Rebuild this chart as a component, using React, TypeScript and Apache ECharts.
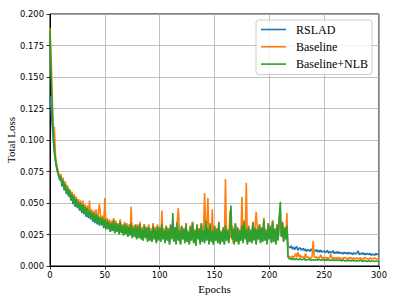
import React, { useEffect, useRef } from "react";
import * as echarts from "echarts";

const seriesNames = ["RSLAD", "Baseline", "Baseline+NLB"];
const seriesColors = ["#1f77b4", "#ff7f0e", "#2ca02c"];
const xTicks = [0, 50, 100, 150, 200, 250, 300];

// Total loss per epoch (epoch 0..300), in units of 0.001
const lossRSLAD = [
  135, 125, 112, 100, 90, 83, 78, 74, 71, 68,
  70, 63, 67, 60, 64, 57, 61, 55, 59, 52,
  56, 49, 54, 47, 52, 46, 50, 44, 49, 42,
  48, 41, 46, 39, 45, 38, 43, 37, 42, 35,
  41, 34, 40, 33, 39, 32, 38, 33, 39, 30,
  36, 29, 35, 30, 36, 27, 33, 28, 37, 26,
  35, 28, 33, 26, 36, 27, 31, 25, 34, 26,
  33, 24, 31, 25, 35, 23, 31, 24, 33, 22,
  32, 23, 34, 22, 30, 21, 33, 23, 31, 20,
  32, 21, 29, 20, 33, 22, 30, 19, 32, 21,
  31, 20, 34, 22, 29, 19, 32, 21, 30, 18,
  33, 22, 31, 20, 31, 18, 35, 21, 29, 18,
  32, 22, 30, 19, 34, 20, 28, 18, 32, 21,
  35, 19, 29, 17, 33, 22, 30, 18, 34, 20,
  29, 19, 36, 21, 31, 18, 34, 20, 29, 18,
  32, 21, 30, 19, 35, 18, 28, 20, 31, 18,
  33, 21, 29, 19, 32, 23, 27, 30, 18, 34,
  20, 31, 18, 29, 21, 33, 19, 36, 22, 30,
  18, 32, 20, 29, 19, 35, 21, 31, 18, 30,
  22, 33, 19, 31, 20, 36, 21, 29, 18, 34,
  22, 32, 19, 36, 20, 30, 18, 33, 21, 34,
  36, 24, 35, 20, 31, 22, 33, 16, 15, 14.5,
  16, 13.5, 15, 13, 14.5, 15.5, 12.5, 14, 14.5, 12.5,
  13.5, 14, 12, 13.5, 11.5, 13, 12.5, 11.5, 13.5, 12,
  12.5, 11.5, 12, 13, 11, 12.5, 11, 12.5, 11, 11.5,
  12, 10.5, 11.5, 12.5, 10, 11.5, 10.5, 11, 12, 10,
  11, 10, 11.5, 10, 11, 10, 10.5, 9.5, 11, 10,
  10.5, 9.5, 11, 9.5, 10.5, 10, 9, 10.5, 10, 9.5,
  10.5, 12, 9, 10, 9.5, 10.5, 9, 10, 9, 10,
  9.5, 9, 10, 8.5, 9.5, 9, 8.5, 10, 9, 9.5,
  9,
];

const lossBaseline = [
  189, 165, 135, 110, 110, 88, 81, 77, 73, 70,
  73, 66, 70, 62, 67, 59, 64, 57, 61, 54,
  59, 52, 57, 49, 55, 48, 53, 46, 52, 44,
  52, 43, 49, 41, 48, 40, 52, 39, 45, 37,
  44, 36, 45, 35, 42, 49, 41, 33, 40, 32,
  54, 31, 38, 30, 37, 28, 36, 29, 38, 27,
  36, 28, 34, 26, 37, 27, 33, 25, 35, 26,
  34, 24, 33, 25, 47, 23, 32, 24, 33, 22,
  33, 23, 35, 22, 31, 21, 33, 23, 31, 20,
  33, 21, 30, 20, 34, 22, 31, 19, 33, 21,
  31, 20, 44, 22, 30, 19, 32, 21, 30, 18,
  33, 22, 31, 20, 29, 18, 35, 46, 29, 18,
  32, 22, 30, 19, 34, 20, 28, 18, 32, 21,
  35, 19, 29, 17, 33, 22, 30, 18, 34, 20,
  29, 58, 27, 31, 54, 18, 34, 20, 45, 18,
  32, 21, 30, 19, 35, 18, 28, 20, 31, 18,
  69, 21, 29, 19, 44, 22, 32, 18, 30, 34,
  20, 31, 18, 29, 21, 55, 19, 36, 22, 66,
  18, 32, 20, 29, 19, 35, 21, 31, 43, 30,
  22, 33, 19, 31, 20, 38, 21, 29, 18, 34,
  22, 32, 19, 36, 20, 30, 18, 33, 21, 40,
  32, 24, 35, 20, 31, 22, 42, 8, 7.5, 7,
  7, 8, 6.5, 7.5, 10, 7, 11, 7, 9, 6.5,
  7.5, 7, 6.5, 10, 6.5, 7.5, 6, 7, 6, 7.5,
  20, 7, 6.5, 7.5, 6, 7, 6.5, 9, 6, 7,
  6, 7, 6, 6.5, 6, 7, 9.5, 6, 6.5, 6,
  6.5, 6, 7, 5.5, 7, 6, 5.5, 6.5, 6, 7,
  6, 5.5, 6.5, 6, 7, 5.5, 6, 6.5, 5.5, 6,
  6.5, 5.5, 6, 6.5, 5.5, 6, 5.5, 7, 6, 5.5,
  6, 5.5, 6.5, 5.5, 6, 5.5, 6.5, 6, 5.5, 6,
  5.5,
];

const lossBaselineNLB = [
  187, 155, 125, 104, 92, 84, 79, 75, 72, 69,
  71, 64, 68, 61, 65, 58, 62, 56, 60, 53,
  57, 50, 55, 48, 53, 47, 51, 45, 50, 43,
  49, 42, 47, 40, 46, 39, 44, 38, 43, 36,
  42, 35, 41, 34, 40, 33, 39, 32, 38, 31,
  37, 30, 36, 29, 35, 27, 34, 28, 36, 26,
  34, 27, 33, 25, 35, 26, 32, 24, 33, 25,
  32, 23, 31, 24, 34, 22, 30, 23, 32, 21,
  31, 22, 33, 21, 29, 20, 32, 22, 30, 19,
  31, 20, 28, 19, 32, 21, 29, 18, 31, 20,
  30, 19, 33, 21, 28, 18, 31, 20, 29, 17,
  32, 21, 42, 19, 30, 17, 34, 20, 28, 17,
  31, 21, 29, 18, 33, 19, 27, 17, 31, 20,
  34, 18, 28, 16, 32, 21, 29, 17, 33, 19,
  28, 18, 36, 20, 30, 17, 33, 19, 28, 17,
  31, 20, 29, 18, 34, 17, 27, 19, 30, 17,
  32, 20, 28, 18, 31, 48, 21, 29, 17, 33,
  19, 30, 17, 28, 20, 32, 18, 35, 21, 29,
  17, 31, 19, 28, 18, 34, 20, 30, 17, 29,
  21, 32, 18, 30, 19, 37, 20, 28, 17, 33,
  21, 31, 18, 35, 19, 29, 17, 32, 20, 38,
  51, 23, 34, 19, 30, 21, 32, 7, 6, 5.5,
  6, 5, 6, 5, 5.5, 6, 5, 5, 6, 5,
  5, 5.5, 6, 4.5, 5, 5, 5.5, 5, 4.5, 5,
  5, 4.5, 5, 5, 4.5, 5.5, 5, 4.5, 5, 5,
  4.5, 5, 4.5, 5, 4.5, 5, 4.5, 4.5, 5, 4.5,
  4.5, 5, 4.5, 4.5, 5, 4.5, 4, 5, 4.5, 4,
  4.5, 4, 5, 4, 4.5, 4, 5, 4, 4.5, 4,
  4.5, 4, 4, 5, 4, 3.5, 4.5, 4, 4, 3.5,
  4, 4.5, 3.5, 4, 4, 4, 3.5, 4, 4, 3.5,
  4,
];

const seriesValues = [lossRSLAD, lossBaseline, lossBaselineNLB];

export default function App() {
  const ref = useRef<HTMLDivElement>(null);
  useEffect(() => {
    if (!ref.current) return;
    const chart = echarts.init(ref.current, undefined, { renderer: "svg" });
    const tickFont = { fontFamily: "DejaVu Sans", fontSize: 8.4, color: "#000" };
    chart.setOption({
      animation: false,
      backgroundColor: "#ffffff",
      grid: {
        left: 50,
        right: 20,
        top: 14,
        bottom: 33,
        show: true,
        borderColor: "#000",
        borderWidth: 1,
        outerBoundsMode: "none",
      },
      legend: {
        orient: "vertical",
        left: 256,
        top: 20,
        data: seriesNames,
        icon: "rect",
        itemWidth: 25,
        itemHeight: 1.6,
        itemGap: 0.3,
        padding: [1, 4, 2, 5],
        backgroundColor: "rgba(255,255,255,0.8)",
        borderColor: "#cccccc",
        borderWidth: 1,
        borderRadius: 3,
        textStyle: {
          fontFamily: "Liberation Serif",
          fontSize: 12,
          color: "#000",
          lineHeight: 17,
          padding: [0, 0, 0, 5],
        },
      },
      xAxis: {
        type: "value",
        min: xTicks[0],
        max: xTicks[xTicks.length - 1],
        interval: 50,
        name: "Epochs",
        nameLocation: "middle",
        nameGap: 17,
        nameMoveOverlap: false,
        nameTextStyle: { fontFamily: "Liberation Serif", fontSize: 11, color: "#000" },
        axisLine: { show: true, onZero: false, lineStyle: { color: "#000", width: 1 } },
        axisTick: { show: true, length: 3.5, lineStyle: { color: "#000", width: 0.8 } },
        axisLabel: { ...tickFont, margin: 5 },
        splitLine: { show: true, lineStyle: { color: "#b0b0b0", width: 0.8 } },
      },
      yAxis: {
        type: "value",
        min: 0,
        max: 0.2,
        interval: 0.025,
        name: "Total Loss",
        nameLocation: "middle",
        nameGap: 34,
        nameMoveOverlap: false,
        nameTextStyle: { fontFamily: "Liberation Serif", fontSize: 11, color: "#000" },
        axisLine: { show: true, lineStyle: { color: "#000", width: 1 } },
        axisTick: { show: true, length: 3.5, lineStyle: { color: "#000", width: 0.8 } },
        axisLabel: { ...tickFont, margin: 6, formatter: (v: number) => v.toFixed(3) },
        splitLine: { show: true, lineStyle: { color: "#b0b0b0", width: 0.8 } },
      },
      series: seriesNames.map((name, k) => ({
        name,
        type: "line",
        showSymbol: false,
        symbol: "none",
        color: seriesColors[k],
        lineStyle: { width: 1.6, color: seriesColors[k] },
        data: seriesValues[k].map((v, i) => [i, v / 1000]),
      })),
    });
    return () => chart.dispose();
  }, []);
  return (
    <div
      ref={ref}
      style={{ position: "absolute", left: 0, top: 0, width: 399, height: 299 }}
    />
  );
}
